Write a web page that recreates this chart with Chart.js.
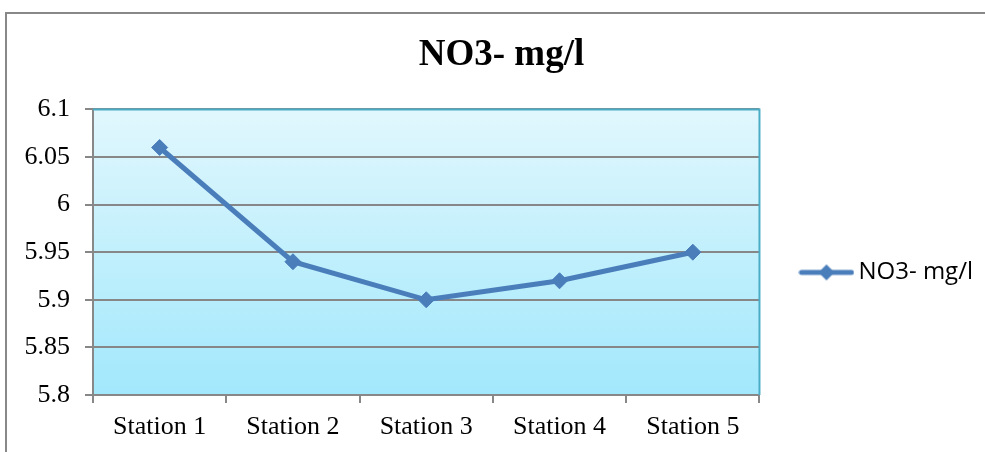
<!DOCTYPE html>
<html lang="en">
<head>
    <meta charset="UTF-8">
    <title>NO3- mg/l</title>
    <script src="https://cdn.jsdelivr.net/npm/chart.js"></script>
    <style>
        html, body { margin: 0; padding: 0; background: #ffffff; }
        #wrap { width: 985px; height: 452px; position: relative; }
    </style>
</head>
<body>
    <div id="wrap">
        <canvas id="myChart" width="985" height="452"></canvas>
    </div>
    <script>
        const stations = ['Station 1', 'Station 2', 'Station 3', 'Station 4', 'Station 5'];
        const no3Values = [6.06, 5.94, 5.90, 5.92, 5.95];
        const seriesName = 'NO3- mg/l';
        const yMin = 5.8;
        const yMax = 6.1;
        const yStep = 0.05;

        const lineColor = '#4a7ebb';

        // legend marker: short line with a diamond in the middle
        function makeLegendMarker() {
            const c = document.createElement('canvas');
            c.width = 56;
            c.height = 20;
            const g = c.getContext('2d');
            g.strokeStyle = lineColor;
            g.lineWidth = 5;
            g.lineCap = 'round';
            g.beginPath();
            g.moveTo(3, 10);
            g.lineTo(53, 10);
            g.stroke();
            g.fillStyle = lineColor;
            g.beginPath();
            g.moveTo(28, 2);
            g.lineTo(36, 10);
            g.lineTo(28, 18);
            g.lineTo(20, 10);
            g.closePath();
            g.fill();
            return c;
        }
        const legendMarker = makeLegendMarker();

        const plotBackground = {
            id: 'plotBackground',
            beforeDraw(chart) {
                const { ctx, chartArea } = chart;
                ctx.save();
                // outer frame of the chart
                ctx.strokeStyle = '#888888';
                ctx.lineWidth = 2;
                ctx.beginPath();
                ctx.moveTo(6, 452);
                ctx.lineTo(6, 13);
                ctx.lineTo(985, 13);
                ctx.stroke();
                // gradient fill of plot area
                const grad = ctx.createLinearGradient(0, chartArea.top, 0, chartArea.bottom);
                grad.addColorStop(0, '#e1f7fd');
                grad.addColorStop(1, '#a2e8fc');
                ctx.fillStyle = grad;
                ctx.fillRect(chartArea.left, chartArea.top, chartArea.right - chartArea.left, chartArea.bottom - chartArea.top);
                ctx.restore();
            },
            afterDatasetsDraw(chart) {
                const { ctx, chartArea } = chart;
                ctx.save();
                ctx.strokeStyle = '#4bacc6';
                ctx.lineWidth = 2;
                ctx.beginPath();
                ctx.moveTo(chartArea.left, chartArea.top);
                ctx.lineTo(chartArea.right, chartArea.top);
                ctx.lineTo(chartArea.right, chartArea.bottom);
                ctx.stroke();
                ctx.restore();
            }
        };

        const ctx = document.getElementById('myChart').getContext('2d');
        const myChart = new Chart(ctx, {
            type: 'line',
            data: {
                labels: stations,
                datasets: [{
                    label: seriesName,
                    data: no3Values,
                    borderColor: lineColor,
                    backgroundColor: lineColor,
                    borderWidth: 5,
                    pointStyle: 'rectRot',
                    pointRadius: 8,
                    pointHoverRadius: 8,
                    pointBackgroundColor: lineColor,
                    pointBorderColor: lineColor,
                    pointBorderWidth: 1,
                    tension: 0,
                    fill: false
                }]
            },
            options: {
                responsive: false,
                animation: false,
                layout: {
                    padding: { left: 20, right: 2, top: 20, bottom: 6 }
                },
                scales: {
                    x: {
                        offset: true,
                        afterFit(scale) { scale.height = 51; },
                        grid: {
                            offset: true,
                            drawOnChartArea: false,
                            drawTicks: true,
                            tickLength: 8,
                            color: '#888888',
                            lineWidth: 2
                        },
                        border: { color: '#888888', width: 2 },
                        ticks: {
                            color: '#000000',
                            padding: 9,
                            font: { family: 'Liberation Serif', size: 26 }
                        }
                    },
                    y: {
                        min: yMin,
                        max: yMax,
                        afterFit(scale) { scale.width = 73; },
                        grid: {
                            color: '#878787',
                            lineWidth: 2,
                            tickLength: 8
                        },
                        border: { color: '#888888', width: 2 },
                        ticks: {
                            stepSize: yStep,
                            color: '#000000',
                            padding: 15,
                            font: { family: 'Liberation Serif', size: 26 },
                            callback: v => String(parseFloat(v.toFixed(2)))
                        }
                    }
                },
                plugins: {
                    title: {
                        display: true,
                        text: seriesName,
                        color: '#000000',
                        font: { family: 'Liberation Serif', size: 37, weight: 'bold' },
                        padding: { top: 13, bottom: 32 }
                    },
                    legend: {
                        position: 'right',
                        fullSize: false,
                        title: {
                            display: true,
                            text: ' ',
                            font: { size: 12 },
                            padding: { top: 13, bottom: 13 }
                        },
                        labels: {
                            usePointStyle: true,
                            pointStyleWidth: 40,
                            padding: 47,
                            color: '#000000',
                            font: { family: "'Open Sans', 'Liberation Sans', sans-serif", size: 24 },
                            generateLabels(chart) {
                                return chart.data.datasets.map((ds, i) => ({
                                    text: ds.label,
                                    pointStyle: legendMarker,
                                    fillStyle: lineColor,
                                    strokeStyle: lineColor,
                                    lineWidth: 0,
                                    fontColor: '#000000',
                                    datasetIndex: i
                                }));
                            }
                        }
                    },
                    tooltip: { enabled: false }
                }
            },
            plugins: [plotBackground]
        });
    </script>
</body>
</html>
